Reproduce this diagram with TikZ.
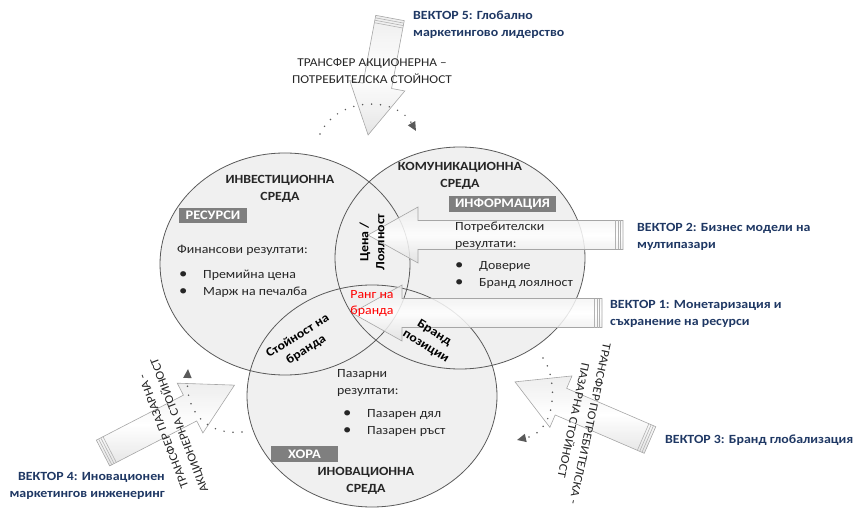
\documentclass[tikz,border=0pt]{standalone}
\usepackage{fontspec}
\setmainfont{Carlito}[FakeStretch=1.11]
\usetikzlibrary{arrows.meta, positioning}
\definecolor{vecblue}{RGB}{31,56,100}
\definecolor{rimgray}{RGB}{90,90,90}
\definecolor{tagfill}{RGB}{127,127,127}
\tikzset{
  envfill/.style = {fill=black!6},
  envrim/.style = {draw=rimgray, line width=0.8pt},
  envtitle/.style = {align=center, inner sep=0pt, text=black!85,
    font=\fontsize{12.5}{17}\selectfont\bfseries},
  tagbox/.style = {fill=tagfill, text=white, inner sep=0pt,
    minimum height=15.5pt, font=\fontsize{13}{14}\selectfont\bfseries},
  result/.style = {align=left, anchor=west, inner sep=0pt, text=black!85,
    font=\fontsize{12.5}{17}\selectfont},
  overlap/.style = {align=center, inner sep=0pt,
    font=\fontsize{12.5}{16}\selectfont\bfseries},
  veclabel/.style = {align=left, anchor=west, inner sep=0pt, text=vecblue,
    font=\fontsize{12.5}{17}\selectfont\bfseries},
  transfer/.style = {align=center, inner sep=0pt, text=black!85,
    font=\fontsize{12}{17}\selectfont},
  blockarrow/.style = {draw=black!35, line width=0.6pt, fill opacity=0.85,
    top color=black!8, bottom color=black!12, middle color=white},
  stripe/.style = {draw=black!30, line width=0.6pt},
  dotarc/.style = {draw=rimgray, line width=1.7pt, line cap=round,
    dash pattern=on 0pt off 9pt, -{Triangle[length=9pt,width=8pt]}}
}
% x, y of the tail, angle, length
\newcommand\vecarrow[4]{%
  \begin{scope}[shift={(#1,#2)}, rotate=#3]
    \draw[blockarrow] (0,-14.5) -- ({#4-50},-14.5) -- ({#4-50},-28) -- (#4,0)
      -- ({#4-50},28) -- ({#4-50},14.5) -- (0,14.5) -- cycle;
    \foreach \s in {2.5,5,7.5}
      \draw[stripe] (\s,-14.5) -- (\s,14.5);
  \end{scope}}
\newcommand\bul{\makebox[24pt][l]{\fontsize{15}{15}\selectfont\textbullet}}

\begin{document}
\begin{tikzpicture}[x=1pt, y=-1pt]
\useasboundingbox (0,0) rectangle (858,510);

% the three environments
\coordinate (inv) at (285,264);
\coordinate (com) at (460,258);
\coordinate (inn) at (372,396);
\foreach \c in {inv,com,inn}
  \fill[envfill] (\c) ellipse [x radius=125, y radius=111];
\foreach \c in {inv,com,inn}
  \draw[envrim] (\c) ellipse [x radius=125, y radius=111];

% vectors
\vecarrow{623}{235}{180}{255}
\vecarrow{602}{313}{180}{250}
\vecarrow{390}{18}{-100.6}{119}
\vecarrow{650}{440}{156.7}{147}
\vecarrow{103}{453}{27.3}{148}

% value transfers
\coordinate (top-s) at (320,134);
\coordinate (top-e) at (416,131);
\draw[dotarc] (top-s) .. controls (338,96) and (396,96) .. (top-e);
\coordinate (right-s) at (543,358);
\coordinate (right-e) at (517,440);
\draw[dotarc] (right-s) .. controls (556,375) and (560,430) .. (right-e);
\coordinate (left-s) at (242,432);
\coordinate (left-e) at (188,369);
\draw[dotarc] (left-s) .. controls (215,435) and (185,420) .. (left-e);

% investment
\node[envtitle] (inv-t) at (280,189) {ИНВЕСТИЦИОННА\\СРЕДА};
\node[tagbox, minimum width=68pt] (inv-tag) at (213,215.5) {РЕСУРСИ};
\node[result] (inv-r) at (177,250) {Финансови резултати:};
\node[result] (inv-l) at (179,283.5) {\bul Премийна цена\\\bul Марж на печалба};

% communication
\node[envtitle] (com-t) at (460,175.5) {КОМУНИКАЦИОННА\\СРЕДА};
\node[tagbox, minimum width=107pt] (com-tag) at (502.5,204) {ИНФОРМАЦИЯ};
\node[result] (com-r) at (455,235.5) {Потребителски\\резултати:};
\node[result] (com-l) at (455,275.5) {\bul Доверие\\\bul Бранд лоялност};

% innovation
\node[result] (inn-r) at (337,382.5) {Пазарни\\резултати:};
\node[result] (inn-l) at (343,422.5) {\bul Пазарен дял\\\bul Пазарен ръст};
\node[tagbox, minimum width=67pt] (inn-tag) at (304.5,454) {ХОРА};
\node[envtitle] (inn-t) at (366,480.5) {ИНОВАЦИОННА\\СРЕДА};

% overlaps
\node[overlap, rotate=90] (price) at (372,242) {Цена /\\Лоялност};
\node[overlap, font=\fontsize{12.5}{16}\selectfont, text=red] (rank) at (372,304) {Ранг на\\бранда};
\node[overlap, rotate=32] (value) at (302,343) {Стойност на\\бранда};
\node[overlap, rotate=-32] (pos) at (430,340) {Бранд\\позиции};

% vector labels
\node[veclabel] (v5) at (413,25) {ВЕКТОР 5: Глобално\\маркетингово лидерство};
\node[veclabel] (v2) at (637,236.5) {ВЕКТОР 2: Бизнес модели на\\мултипазари};
\node[veclabel] (v1) at (610,313.5) {ВЕКТОР 1: Монетаризация и\\съхранение на ресурси};
\node[veclabel] (v3) at (665,440) {ВЕКТОР 3: Бранд глобализация};
\node[veclabel, align=right, anchor=east] (v4) at (165,486) {ВЕКТОР 4: Иновационен\\маркетингов инженеринг};

% transfer texts
\node[transfer] (tr-top) at (372,71.5) {ТРАНСФЕР АКЦИОНЕРНА –\\ПОТРЕБИТЕЛСКА СТОЙНОСТ};
\node[transfer, rotate=-102] (tr-right) at (582,422) {ТРАНСФЕР ПОТРЕБИТЕЛСКА -\\ПАЗАРНА СТОЙНОСТ};
\node[transfer, rotate=111] (tr-left) at (172,428) {ТРАНСФЕР ПАЗАРНА -\\АКЦИОНЕРНА СТОЙНОСТ};
\end{tikzpicture}
\end{document}
